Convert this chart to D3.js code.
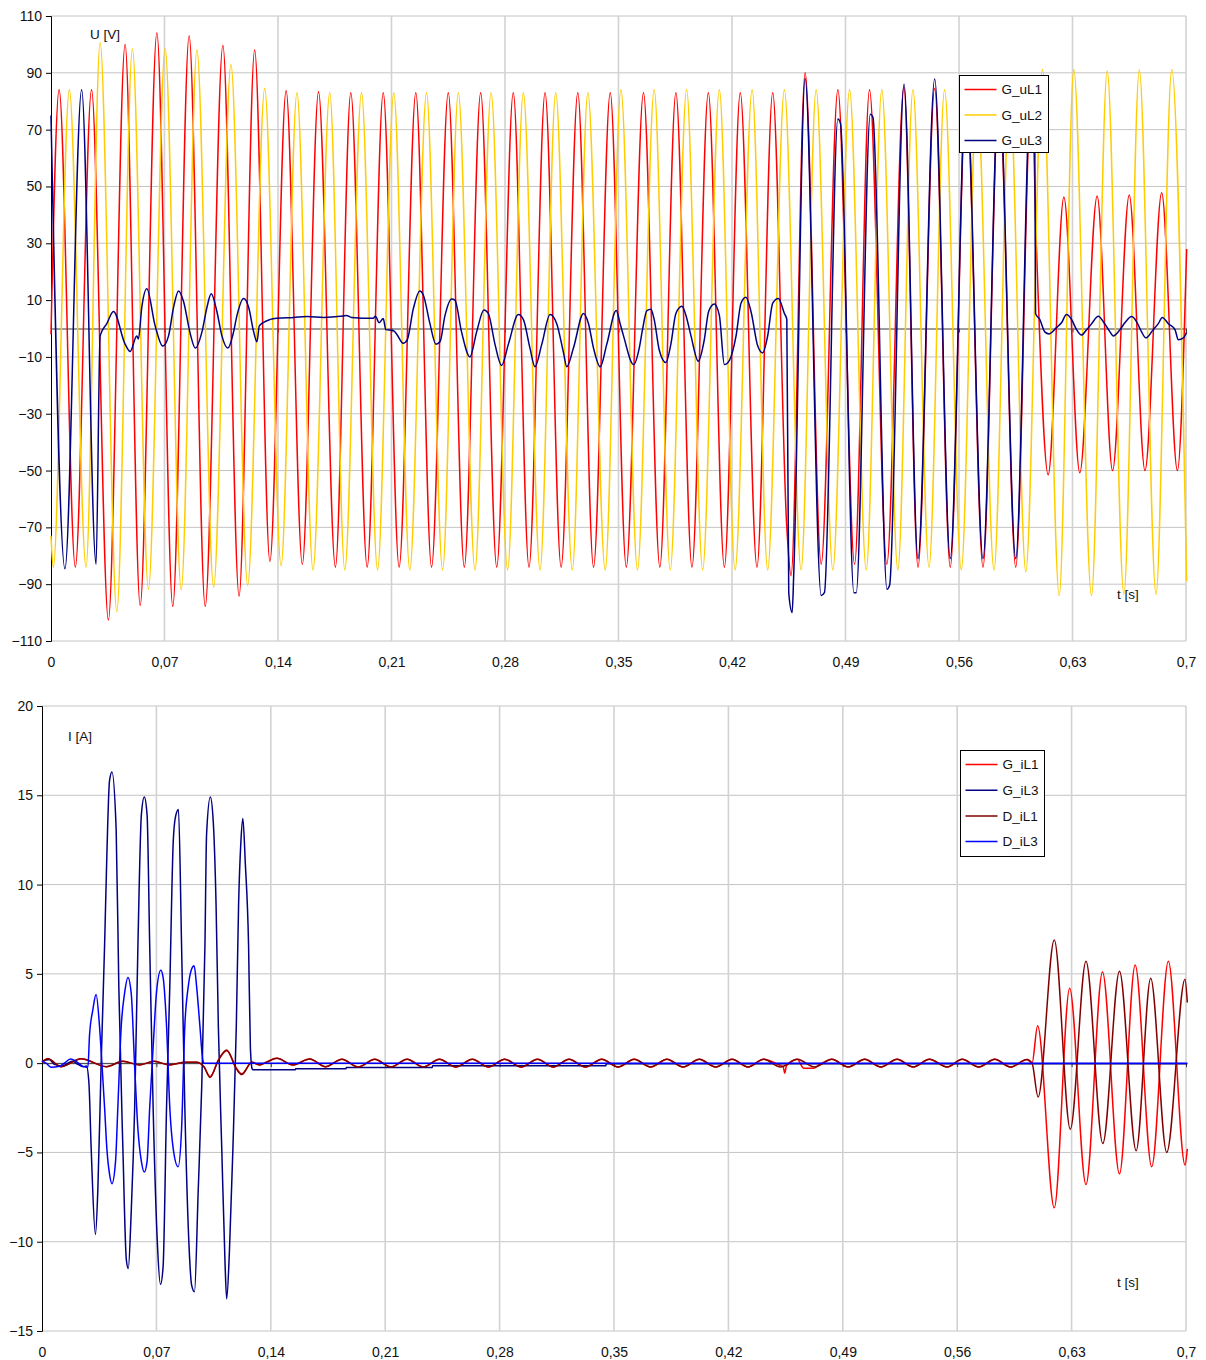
<!DOCTYPE html>
<html><head><meta charset="utf-8">
<script src="https://cdn.jsdelivr.net/npm/d3@7"></script>
<style>
body{margin:0;background:#fff;}
svg{display:block;font-family:"Liberation Sans",Arial,sans-serif;}
</style></head>
<body><svg id="c" width="1206" height="1360"></svg>
<script>
// ---------- data ----------
const timeTicks = [0,0.07,0.14,0.21,0.28,0.35,0.42,0.49,0.56,0.63,0.7];
const timeTickLabels = ["0","0,07","0,14","0,21","0,28","0,35","0,42","0,49","0,56","0,63","0,7"];
const voltTicks = [-110,-90,-70,-50,-30,-10,10,30,50,70,90,110];
const currTicks = [-15,-10,-5,0,5,10,15,20];
const topSeriesNames = ["G_uL1","G_uL2","G_uL3"];
const bottomSeriesNames = ["G_iL1","G_iL3","D_iL1","D_iL3"];

const G_uL1 = [[0,-2],[0.005,84],[0.015,-84],[0.025,84],[0.0354,-102.6],[0.0457,100],[0.055,-97.5],[0.0653,104],[0.0751,-97.8],[0.0852,103],[0.0951,-97.8],[0.106,99.6],[0.116,-94.2],[0.1256,98],[0.135,-82],[0.145,83.7],[0.155,-83],[0.165,83.3],[0.1754,-84],
[0.1849,83],[0.195,-84],[0.2049,83],[0.2147,-84],[0.225,83],[0.2347,-84],[0.245,83],[0.2549,-84],[0.265,83],[0.2749,-84],[0.2851,83],[0.2948,-84],[0.3047,83],[0.3146,-84],[0.3249,83],[0.3346,-84],[0.3449,83],[0.3548,-84],[0.3654,83],[0.3755,-84],[0.3854,83],[0.3953,-84],[0.4054,83],[0.4153,-84],[0.4251,83],[0.4354,-84],[0.4451,83],[0.4538,-70],[0.4564,-87],[0.4651,90],[0.475,-83],[0.4853,84],[0.4956,-83],[0.5048,84],[0.5155,-83],[0.526,85],[0.5347,-84],[0.545,84.5],[0.5546,-84],[0.5645,84],[0.5748,-84],[0.5847,84],[0.595,-84],[0.6047,84],[0.6078,28],[0.615,-51.5],[0.6247,46.3],[0.6345,-50.8],[0.6452,46.6],[0.6547,-50],[0.665,47],[0.6747,-50],[0.685,47.8],[0.6947,-50],[0.7004,28]];

const G_uL2 = [[0,-73],[0.0014,-84],[0.0113,84],[0.0216,-84],[0.0303,100.6],[0.0406,-99.7],[0.0502,98.4],[0.0601,-91.8],[0.0704,98.6],[0.0803,-92],[0.09,98],[0.1003,-91],[0.111,92.8],[0.1213,-90.4],[0.1318,84.5],[0.1419,-83.5],[0.1517,83],[0.1616,-85],[0.1719,83],[0.1812,-85],[0.1915,83],[0.2014,-85],[0.2114,83],[0.2213,-85],[0.2316,83],[0.2415,-85],[0.2512,83],[0.2615,-85],[0.2714,83],[0.2816,-85],[0.2913,83],[0.3016,-85],[0.3113,83],[0.3215,-85],[0.3311,83],[0.3418,-85],[0.3515,84],[0.3617,-85],[0.372,84],[0.3819,-85],[0.392,84],[0.4019,-85],[0.4122,84],[0.4219,-85],[0.4324,84],[0.442,-85],[0.4523,84],[0.4626,-85],[0.4719,84],[0.4822,-85],[0.4925,84],[0.5028,-85],[0.5124,84],[0.5223,-85],[0.5316,84],[0.5415,-84],[0.5511,84],[0.5614,-85],[0.5711,84],[0.5816,-85],[0.5913,84],[0.6012,-85.6],[0.6115,91.2],[0.6218,-94],[0.6308,91.2],[0.6417,-94],[0.6514,90.6],[0.6617,-93.5],[0.6712,91],[0.6815,-93.5],[0.6912,91.2],[0.7004,-89]];

const G_uL3 = [[0,75],[0.0086,-84.6],[0.0189,84],[0.0278,-83],[0.0303,-2.6],[0.0344,1.7],[0.0385,6],[0.0457,-5.5],[0.0488,-8.1],[0.0529,-2.6],[0.0539,-3.7],[0.056,7.5],[0.0591,14],[0.0642,1],[0.069,-6.2],[0.0725,-2.6],[0.0756,7.5],[0.0787,13.2],[0.0817,9.6],[0.0859,-1.9],[0.089,-6.9],[0.0931,-1.2],[0.0962,7.5],[0.0988,12.2],[0.1023,6],[0.1054,-2.6],[0.1091,-6.9],[0.1126,-1.2],[0.1147,4.6],[0.1188,10.6],[0.1219,7.5],[0.125,-1.2],[0.127,-4.7],[0.1285,1],[0.1353,3.2],[0.1394,3.6],[0.1497,3.9],[0.1579,4.2],[0.1682,3.9],[0.1785,4.3],[0.1822,4.6],[0.1853,3.9],[0.1987,3.6],[0.2001,4.3],[0.2024,2],[0.2049,3.5],[0.2065,-0.4],[0.211,-0.7],[0.2131,-1.9],[0.2172,-5.2],[0.2197,-4],[0.2234,6.8],[0.2275,13.2],[0.2296,11.8],[0.2337,1.7],[0.2374,-5.5],[0.2399,-4.7],[0.243,4.6],[0.2471,10.4],[0.2491,10],[0.2532,-1.2],[0.2584,-10],[0.2625,-1.2],[0.267,6.5],[0.2697,5.3],[0.2738,-5.5],[0.2779,-13],[0.2821,-5.5],[0.2882,4.9],[0.2913,3.2],[0.2954,-6.9],[0.2985,-13.5],[0.3027,-5.5],[0.3078,4.9],[0.3119,1.7],[0.316,-8.3],[0.3181,-13.5],[0.3222,-6.9],[0.3284,5.3],[0.3315,1.7],[0.3346,-6.9],[0.3387,-13.5],[0.3428,-5.5],[0.3486,6.3],[0.351,1.7],[0.3531,-2.6],[0.3593,-12.7],[0.3628,-6.9],[0.3648,-0.4],[0.3675,6.3],[0.37,6.8],[0.372,3.2],[0.3751,-7.5],[0.3792,-12],[0.3823,-5.5],[0.3854,5.3],[0.3891,7.8],[0.3916,4.6],[0.3947,-2.6],[0.3992,-11.5],[0.4029,-4],[0.4056,6],[0.4091,8.6],[0.4122,4.6],[0.4153,-12.7],[0.4184,-11.2],[0.4225,-2.6],[0.4256,9],[0.4286,11],[0.4317,6],[0.4359,-6.2],[0.4389,-8.6],[0.442,-2.6],[0.4451,8.9],[0.4486,10.6],[0.4523,5.3],[0.4538,3.2],[0.455,-93],[0.4571,-100],[0.4581,-86],[0.4651,88],[0.475,-94],[0.477,-93],[0.4853,73.7],[0.4869,72.2],[0.4952,-93],[0.4966,-93],[0.5053,75.4],[0.5069,74.4],[0.5156,-91.8],[0.5172,-90.4],[0.5261,86],[0.5347,-81],[0.545,87.8],[0.5546,-81],[0.5645,86],[0.5748,-81],[0.5847,86],[0.595,-81],[0.6045,86],[0.6067,70],[0.6072,5.3],[0.6098,3.2],[0.6129,-1.2],[0.6156,-1.9],[0.6201,0.3],[0.6232,2],[0.6263,4.9],[0.6294,3.2],[0.6325,-0.4],[0.6356,-2.3],[0.6387,-0.4],[0.6418,1.7],[0.6459,4.3],[0.649,2.4],[0.6531,-1.2],[0.6551,-2.6],[0.6593,-0.4],[0.6623,2],[0.6665,4.2],[0.6695,2.4],[0.6726,-1.2],[0.6753,-3.3],[0.6798,-0.4],[0.6829,1.7],[0.6854,3.9],[0.6891,1.7],[0.6932,-0.4],[0.6953,-4],[0.6984,-3.3],[0.7004,-1.4]];

const G_iL1 = [[0,0.05],[0.0035,0.25],[0.0117,-0.2],[0.024,0.25],[0.0393,-0.2],[0.0495,0.1],[0.0597,-0.1],[0.0686,0.1],[0.0778,-0.1],[0.088,0.05],[0.0945,0.05],[0.0991,-0.2],[0.1028,-0.75],[0.1081,0.2],[0.113,0.7],[0.1191,-0.3],[0.1222,-0.6],[0.1284,0.05],[0.1331,-0.1],[0.1372,0.05],[0.1437,0.27],[0.1535,-0.1],[0.1638,0.23],[0.1735,-0.2],
[0.1835,0.22],[0.1935,-0.22],[0.2036,0.22],[0.2135,-0.22],[0.2234,0.22],[0.2333,-0.22],[0.2432,0.22],[0.2532,-0.22],[0.2633,0.22],[0.2732,-0.22],[0.2831,0.22],[0.2932,-0.22],[0.3032,0.22],[0.3128,-0.22],[0.3225,0.22],[0.3325,-0.22],[0.3425,0.22],[0.3525,-0.22],[0.3624,0.22],[0.3724,-0.22],[0.3824,0.22],[0.3923,-0.22],[0.4022,0.22],[0.4122,-0.22],[0.4223,0.22],[0.432,-0.22],[0.4416,0.22],[0.4515,-0.12],[0.4535,-0.2],[0.4545,-0.56],[0.4555,-0.15],[0.4622,0.22],[0.466,-0.28],[0.472,-0.28],[0.4755,-0.1],[0.4833,0.22],[0.4933,-0.22],[0.5034,0.22],[0.5133,-0.22],[0.5232,0.22],[0.5331,-0.22],[0.543,0.22],[0.5539,-0.22],[0.5631,0.22],[0.5732,-0.22],[0.583,0.22],[0.5926,-0.22],[0.6027,0.2],[0.6058,0],[0.6092,2.1],[0.6194,-8.1],[0.6288,4.2],[0.6388,-6.8],[0.6489,5.1],[0.6593,-6.2],[0.6689,5.5],[0.679,-5.8],[0.6892,5.7],[0.6994,-5.7],[0.7008,-4.8]];

const G_iL3 = [[0,0.1],[0.0045,0.2],[0.0076,-0.07],[0.0127,-0.16],[0.0158,0],[0.0189,0.1],[0.022,-0.07],[0.0252,-0.2],[0.0272,-0.16],[0.0287,-1.1],[0.0301,-4.8],[0.0327,-9.6],[0.0342,-7],[0.0362,0],[0.0383,6.6],[0.0397,11.7],[0.0413,15.8],[0.0428,16.3],[0.0454,13],[0.047,4.3],[0.0495,-4.8],[0.0516,-11],[0.0528,-11.5],[0.0546,-8.3],[0.0567,-2.5],[0.0587,6.6],[0.0608,13.9],[0.0626,14.9],[0.0643,13.9],[0.0659,6.6],[0.068,-2.5],[0.0706,-10.1],[0.0725,-12.4],[0.0741,-11.4],[0.0762,-2.5],[0.0782,4.3],[0.0803,12.4],[0.0817,13.8],[0.0835,14.2],[0.0854,6.6],[0.0874,-2.5],[0.0901,-10.5],[0.0915,-12.4],[0.0933,-12.8],[0.0956,-7.1],[0.0977,-1.4],[0.0997,6.6],[0.1007,12.8],[0.103,14.9],[0.1048,13.5],[0.1065,8.9],[0.1079,2.1],[0.11,-4.8],[0.112,-11.2],[0.113,-13.2],[0.1147,-10.5],[0.1168,-4.8],[0.1189,2.1],[0.1203,8.9],[0.1217,12.4],[0.1229,13.7],[0.1244,11.2],[0.1264,6.6],[0.1275,0.9],[0.1285,-0.3],[0.129,-0.37],[0.155,-0.37],[0.1552,-0.32],[0.186,-0.32],[0.1862,-0.24],[0.2388,-0.24],[0.239,-0.15],[0.345,-0.15],[0.3452,-0.04],[0.7008,-0.04]];

const D_iL1 = [[0,0.05],[0.0035,0.25],[0.0117,-0.2],[0.024,0.25],[0.0393,-0.2],[0.0495,0.1],[0.0597,-0.1],[0.0686,0.1],[0.0778,-0.1],[0.088,0.05],[0.0945,0.05],[0.0991,-0.2],[0.1028,-0.8],[0.1081,0.2],[0.113,0.73],[0.1191,-0.35],[0.1222,-0.64],[0.1284,0.05],[0.1331,-0.1],[0.1372,0.05],[0.1437,0.27],[0.1535,-0.1],[0.1638,0.23],[0.1735,-0.2],
[0.1835,0.22],[0.1935,-0.22],[0.2036,0.22],[0.2135,-0.22],[0.2234,0.22],[0.2333,-0.22],[0.2432,0.22],[0.2532,-0.22],[0.2633,0.22],[0.2732,-0.22],[0.2831,0.22],[0.2932,-0.22],[0.3032,0.22],[0.3128,-0.22],[0.3225,0.22],[0.3325,-0.22],[0.3425,0.22],[0.3525,-0.22],[0.3624,0.22],[0.3724,-0.22],[0.3824,0.22],[0.3923,-0.22],[0.4022,0.22],[0.4122,-0.22],[0.4223,0.22],[0.432,-0.22],[0.4416,0.22],[0.4519,-0.22],[0.4622,0.22],[0.4727,-0.22],[0.4833,0.22],[0.4933,-0.22],[0.5034,0.22],[0.5133,-0.22],[0.5232,0.22],[0.5331,-0.22],[0.543,0.22],[0.5539,-0.22],[0.5631,0.22],[0.5732,-0.22],[0.583,0.22],[0.5926,-0.22],[0.6027,0.2],[0.6058,0],[0.6095,-1.9],[0.6194,6.9],[0.6292,-3.7],[0.6388,5.7],[0.6491,-4.5],[0.6593,5.15],[0.6695,-4.9],[0.6784,4.75],[0.6882,-5],[0.6994,4.7],[0.7008,3.4]];

const D_iL3 = [[0,0.1],[0.0025,0],[0.0055,-0.23],[0.0107,-0.18],[0.0137,0],[0.0174,0.23],[0.0209,0.1],[0.025,-0.18],[0.0281,-0.23],[0.0291,1.6],[0.0311,2.98],[0.0331,3.84],[0.0352,2.06],[0.0368,-0.23],[0.0383,-2.5],[0.0397,-4.8],[0.0413,-6.2],[0.0428,-6.75],[0.045,-5.5],[0.0464,-2.5],[0.0485,2.1],[0.0505,3.9],[0.0526,4.8],[0.0546,3.9],[0.0567,-0.2],[0.0587,-3.7],[0.0608,-5.5],[0.0626,-6.1],[0.0643,-5.5],[0.0659,-2.5],[0.068,0.9],[0.07,3.9],[0.0727,5.2],[0.0741,4.8],[0.0762,2.1],[0.0782,-2.5],[0.0803,-4.8],[0.0833,-5.8],[0.0854,-3.7],[0.0874,2.1],[0.0895,4.3],[0.0915,5.26],[0.0931,5.45],[0.0946,4.3],[0.0966,2.1],[0.0983,0.23],[0.0991,0],[0.7008,0]];

// ---------- drawing ----------
const svg = d3.select("#c");
const TICK_FONT = 14;
const FONT = 13.5;
const curve = d3.curveMonotoneX;

function panel(cfg){
  const x = d3.scaleLinear().domain([0,0.7]).range([cfg.left,cfg.right]);
  const y = d3.scaleLinear().domain(cfg.ydom).range([cfg.bottom,cfg.top]);
  const g = svg.append("g");
  g.append("g").selectAll("line").data(cfg.yticks).join("line")
    .attr("x1",cfg.left).attr("x2",cfg.right)
    .attr("y1",d=>y(d)).attr("y2",d=>y(d))
    .attr("stroke","#c4c4c4").attr("stroke-width",1);
  g.append("g").selectAll("line").data(timeTicks.slice(1)).join("line")
    .attr("x1",d=>x(d)).attr("x2",d=>x(d))
    .attr("y1",cfg.top).attr("y2",cfg.bottom)
    .attr("stroke","#d2d2d2").attr("stroke-width",1.6);
  const zx = g.append("g").attr("transform",`translate(0,${y(0)})`)
    .call(d3.axisBottom(x).tickValues(timeTicks).tickSize(4).tickFormat(""));
  zx.select(".domain").attr("stroke","#3a3a3a");
  zx.selectAll(".tick line").attr("stroke","#3a3a3a");
  const xl = g.append("g").attr("transform",`translate(0,${cfg.bottom})`)
    .call(d3.axisBottom(x).tickValues(timeTicks).tickSize(0).tickPadding(16)
      .tickFormat((d,i)=>timeTickLabels[i]));
  xl.select(".domain").remove();
  xl.selectAll("text").attr("font-size",TICK_FONT).attr("font-family","Liberation Sans, Arial").attr("fill","#111");
  const ya = g.append("g").attr("transform",`translate(${cfg.left},0)`)
    .call(d3.axisLeft(y).tickValues(cfg.yticks).tickSize(5).tickPadding(4));
  ya.select(".domain").attr("stroke","#000");
  ya.selectAll("text").attr("font-size",TICK_FONT).attr("font-family","Liberation Sans, Arial").attr("fill","#111");
  const line = d3.line().x(d=>x(d[0])).y(d=>y(d[1])).curve(curve);
  cfg.series.forEach(s=>{
    g.append("path").datum(s.data).attr("d",line)
      .attr("fill","none").attr("stroke",s.color).attr("stroke-width",1.5)
      .attr("stroke-linejoin","round");
  });
  g.append("text").attr("x",cfg.ytitle[0]).attr("y",cfg.ytitle[1]).text(cfg.ytitle[2])
    .attr("font-size",FONT).attr("fill","#111");
  g.append("text").attr("x",cfg.xtitle[0]).attr("y",cfg.xtitle[1]).text("t [s]")
    .attr("font-size",FONT).attr("fill","#111");
  const L = cfg.legend;
  const lg = g.append("g").attr("transform",`translate(${L.x},${L.y})`);
  lg.append("rect").attr("width",L.w).attr("height",L.h).attr("fill","#fff").attr("stroke","#000").attr("stroke-width",1);
  cfg.series.forEach((s,i)=>{
    const yy = L.first + i*L.step;
    lg.append("line").attr("x1",5).attr("x2",37).attr("y1",yy).attr("y2",yy)
      .attr("stroke",s.color).attr("stroke-width",1.5);
    lg.append("text").attr("x",42).attr("y",yy+4.8).text(s.name).attr("font-size",FONT).attr("fill","#111");
  });
}

panel({
  left:51, right:1186, top:16, bottom:641, ydom:[-110,110], yticks:voltTicks,
  series:[
    {name:topSeriesNames[0], data:G_uL1, color:"#ff0000"},
    {name:topSeriesNames[1], data:G_uL2, color:"#ffcc00"},
    {name:topSeriesNames[2], data:G_uL3, color:"#000080"}
  ],
  ytitle:[90,39,"U [V]"], xtitle:[1117,599],
  legend:{x:959.5,y:75.5,w:89,h:77,first:14,step:25.5}
});

panel({
  left:42, right:1186, top:706, bottom:1331, ydom:[-15,20], yticks:currTicks,
  series:[
    {name:bottomSeriesNames[0], data:G_iL1, color:"#ff0000"},
    {name:bottomSeriesNames[1], data:G_iL3, color:"#000080"},
    {name:bottomSeriesNames[2], data:D_iL1, color:"#800000"},
    {name:bottomSeriesNames[3], data:D_iL3, color:"#0000ff"}
  ],
  ytitle:[68,741,"I [A]"], xtitle:[1117,1287],
  legend:{x:960.5,y:750.5,w:84,h:106,first:14,step:25.7}
});
</script>
</body></html>
